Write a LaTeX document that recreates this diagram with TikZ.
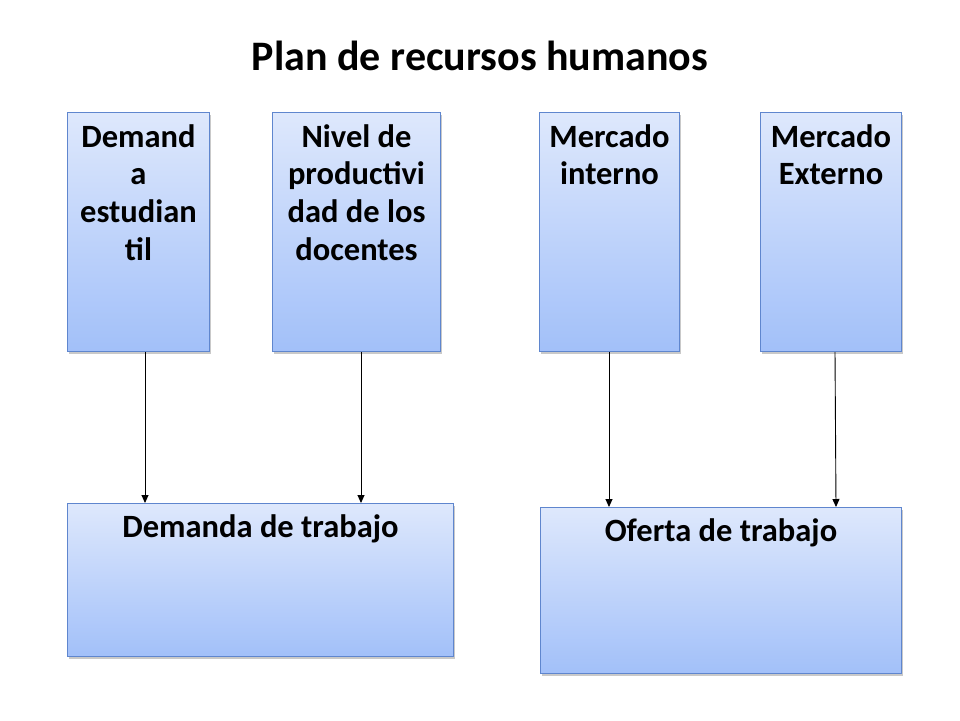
\documentclass[tikz,border=0pt]{standalone}
\usepackage{fontspec}
\setmainfont{Carlito}
\usetikzlibrary{arrows.meta,shadows}
\definecolor{boxtop}{HTML}{DEE8FC}
\definecolor{boxbot}{HTML}{A2C0F9}
\definecolor{boxline}{HTML}{5F86CE}
\tikzset{
  bluebox/.style={draw=boxline, line width=1pt, top color=boxtop, bottom color=boxbot,
    drop shadow={shadow xshift=1.2pt, shadow yshift=-2.4pt, opacity=0.35, fill=black!60},
    inner sep=0pt, anchor=north west},
  boxtext/.style={anchor=north, align=center, inner sep=0pt,
    font=\bfseries\fontsize{32.5}{37.7}\selectfont},
  link/.style={draw=black, line width=0.9pt, -{Triangle[length=8pt,width=7pt]}}
}
\begin{document}
\begin{tikzpicture}[x=1pt,y=-1pt]
\useasboundingbox (0,0) rectangle (960,720);
\fill[white] (0,0) rectangle (960,720);
\node[font=\bfseries\fontsize{42}{50}\selectfont, anchor=base] (title) at (480,70) {Plan de recursos humanos};
% top boxes
\node[bluebox, minimum width=142pt, minimum height=239pt] (b1) at (67,112) {};
\node[bluebox, minimum width=168pt, minimum height=239pt] (b2) at (272,112) {};
\node[bluebox, minimum width=140pt, minimum height=239pt] (b3) at (539,112) {};
\node[bluebox, minimum width=141pt, minimum height=239pt] (b4) at (760,112) {};
% bottom boxes
\node[bluebox, minimum width=386pt, minimum height=153pt] (d1) at (67,503) {};
\node[bluebox, minimum width=361pt, minimum height=166pt] (d2) at (540,507) {};
% texts
\node[boxtext] (t1) at ([yshift=-12pt]b1.north) {Demand\\a\\estudian\\til};
\node[boxtext] (t2) at ([yshift=-12pt]b2.north) {Nivel de\\productivi\\dad de los\\docentes};
\node[boxtext] (t3) at ([yshift=-12pt]b3.north) {Mercado\\interno};
\node[boxtext] (t4) at ([yshift=-12pt]b4.north) {Mercado\\Externo};
\node[boxtext] (t5) at ([yshift=-11pt]d1.north) {Demanda de trabajo};
\node[boxtext] (t6) at ([yshift=-11pt]d2.north) {Oferta de trabajo};
% connectors
\coordinate (s1) at (b1.south -| 145,0);
\coordinate (e1) at (d1.north -| 145,0);
\coordinate (s2) at (b2.south -| 361,0);
\coordinate (e2) at (d1.north -| 361,0);
\coordinate (s3) at (b3.south -| 609,0);
\coordinate (e3) at (d2.north -| 609,0);
\coordinate (s4) at (b4.south -| 835,0);
\coordinate (e4) at (d2.north -| 836,0);
\draw[link] (s1) -- (e1);
\draw[link] (s2) -- (e2);
\draw[link] (s3) -- (e3);
\draw[link] (s4) -- (e4);
\end{tikzpicture}
\end{document}
